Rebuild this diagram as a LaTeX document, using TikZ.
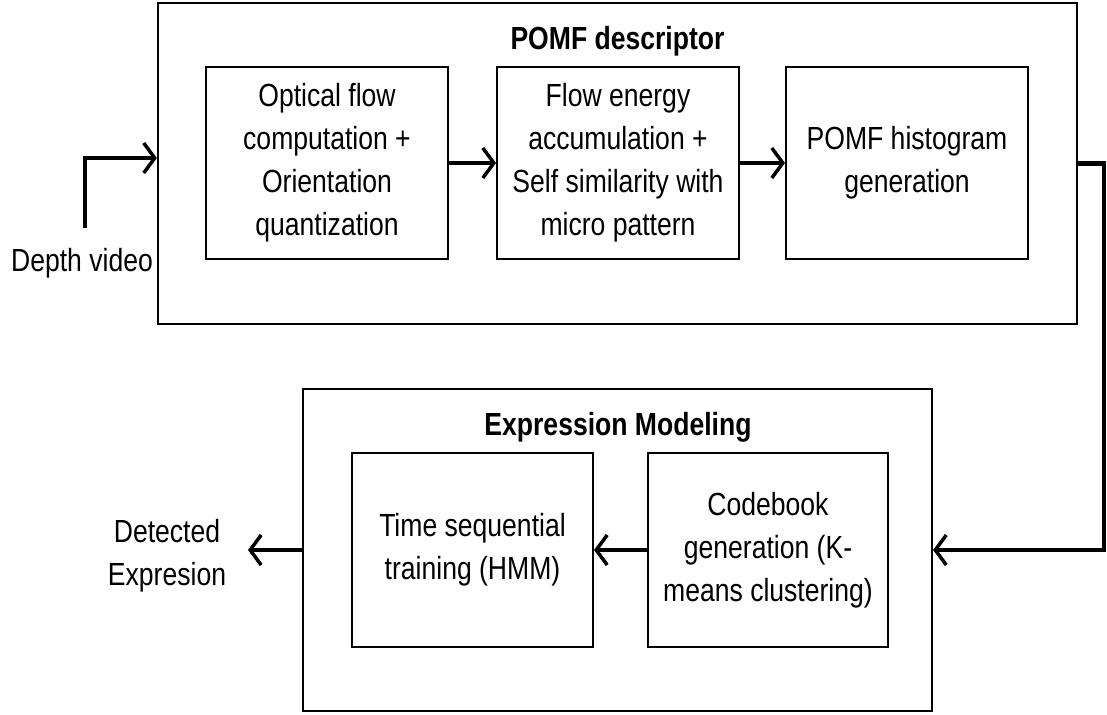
\documentclass[tikz,border=0pt]{standalone}
\usepackage{fontspec}
\setmainfont{Liberation Sans}[FakeStretch=0.83]
\usetikzlibrary{arrows.meta}
\tikzset{
  outerbox/.style={draw, line width=2.2pt, rectangle, inner sep=0pt},
  stagebox/.style={draw, line width=2pt, rectangle, align=center, inner sep=0pt,
    font=\fontsize{32}{43}\selectfont},
  lbl/.style={align=center, inner sep=0pt, font=\fontsize{32}{43}\selectfont},
  ttl/.style={inner sep=0pt, font=\fontsize{32}{43}\selectfont\bfseries},
  conn/.style={line width=4.5pt, -{Straight Barb[length=11pt,width=30pt,line width=3.5pt]}}
}
\begin{document}
\begin{tikzpicture}[x=1pt,y=-1pt]
\useasboundingbox (0,0) rectangle (1107,714);
% upper group
\node[outerbox, minimum width=919pt, minimum height=321pt] (pomf) at (617.5,163.5) {};
\node[ttl] (pomft) at (617.5,41) {POMF descriptor};
\node[stagebox, minimum width=242pt, minimum height=192pt] (b1) at (327,163)
  {Optical flow\\computation +\\Orientation\\quantization};
\node[stagebox, minimum width=242pt, minimum height=192pt] (b2) at (618,163)
  {Flow energy\\accumulation +\\Self similarity with\\micro pattern};
\node[stagebox, minimum width=242pt, minimum height=192pt] (b3) at (907,163)
  {POMF histogram\\generation};
% lower group
\node[outerbox, minimum width=629pt, minimum height=322pt] (expr) at (617.5,550) {};
\node[ttl] (exprt) at (618,427) {Expression Modeling};
\node[stagebox, minimum width=241pt, minimum height=194pt] (b4) at (472.5,550)
  {Time sequential\\training (HMM)};
\node[stagebox, minimum width=240pt, minimum height=194pt] (b5) at (768,550)
  {Codebook\\generation (K-\\means clustering)};
% labels
\node[lbl] (din) at (82,263) {Depth video};
\node[lbl] (dout) at (167,556) {Detected\\Expresion};
\coordinate (inA) at (85,228);
\coordinate (outA) at (248,550);
% connectors
\draw[conn] (inA) |- ([yshift=5.5pt]pomf.west);
\draw[conn] (b1) -- (b2);
\draw[conn] (b2) -- (b3);
\draw[conn] (pomf.east) -- ++(26,0) |- (expr.east);
\draw[conn] (b5) -- (b4);
\draw[conn] (expr.west) -- (outA);
\end{tikzpicture}
\end{document}
